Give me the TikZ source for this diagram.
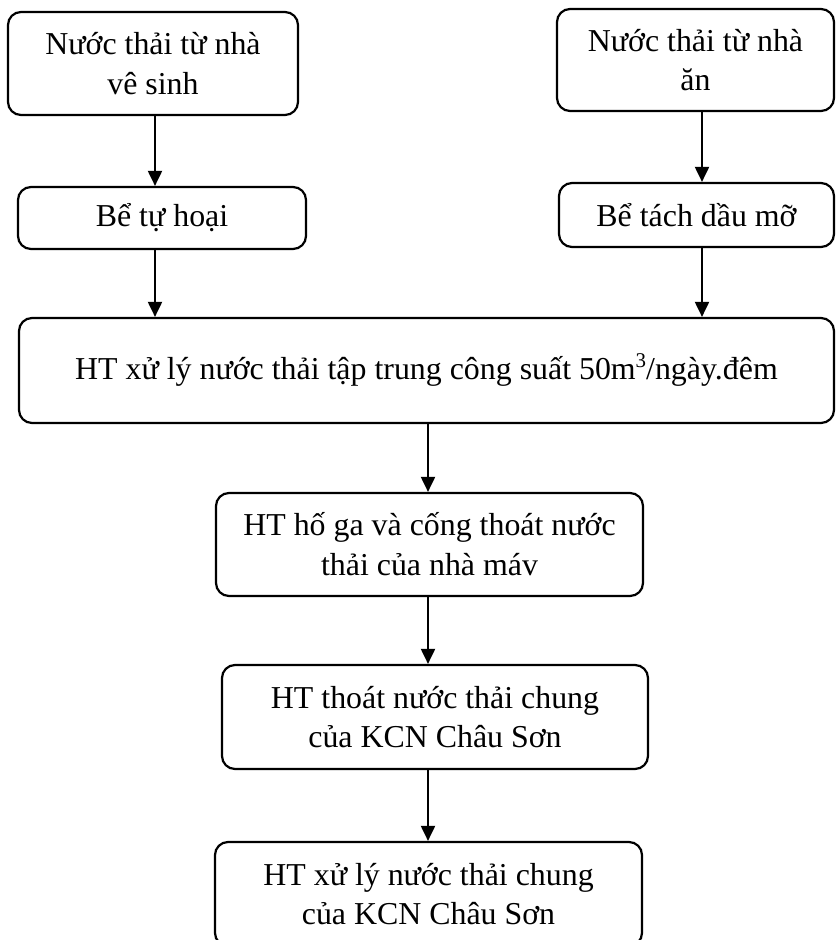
\documentclass[tikz,border=0pt]{standalone}
\usepackage{fontspec}
\setmainfont{Liberation Serif}
\usetikzlibrary{arrows.meta}
\newcommand{\cubed}{\raisebox{12bp}{\fontsize{21}{21}\selectfont 3}}
\begin{document}
\begin{tikzpicture}[x=1bp,y=-1bp,
  box/.style={draw, line width=2.2bp, rounded corners=13bp, align=center,
    inner sep=0pt, font=\fontsize{32}{40}\selectfont},
  arr/.style={line width=2bp, -{Triangle[width=14bp,length=15bp]}}]
\useasboundingbox (0,0) rectangle (836,940);
\clip (0,0) rectangle (836,940);
% sources
\node[box, minimum width=290bp, minimum height=103bp] (b1) at (153,63.5) {Nước thải từ nhà\\vê sinh};
\node[box, minimum width=277bp, minimum height=102bp] (b2) at (695.5,60) {Nước thải từ nhà\\ăn};
% pre-treatment
\node[box, minimum width=288bp, minimum height=62bp] (b3) at (162,218) {Bể tự hoại};
\node[box, minimum width=275bp, minimum height=64bp] (b4) at (696.5,215) {Bể tách dầu mỡ};
% central treatment plant
\node[box, minimum width=815bp, minimum height=105bp] (b5) at (426.5,370.5)
  {HT xử lý nước thải tập trung công suất 50m\cubed/ngày.đêm};
% drainage chain
\node[box, minimum width=427bp, minimum height=103bp] (b6) at (429.5,544.5) {HT hố ga và cống thoát nước\\thải của nhà máv};
\node[box, minimum width=426bp, minimum height=104bp] (b7) at (435,717) {HT thoát nước thải chung\\của KCN Châu Sơn};
\node[box, minimum width=427bp, minimum height=104bp] (b8) at (428.5,894) {HT xử lý nước thải chung\\của KCN Châu Sơn};
% arrow columns
\coordinate (xl) at (155,0);
\coordinate (xr) at (702,0);
\coordinate (xm) at (428,0);
\draw[arr] (b1.south -| xl) -- (b3.north -| xl);
\draw[arr] (b2.south -| xr) -- (b4.north -| xr);
\draw[arr] (b3.south -| xl) -- (b5.north -| xl);
\draw[arr] (b4.south -| xr) -- (b5.north -| xr);
\draw[arr] (b5.south -| xm) -- (b6.north -| xm);
\draw[arr] (b6.south -| xm) -- (b7.north -| xm);
\draw[arr] (b7.south -| xm) -- (b8.north -| xm);
\end{tikzpicture}
\end{document}
